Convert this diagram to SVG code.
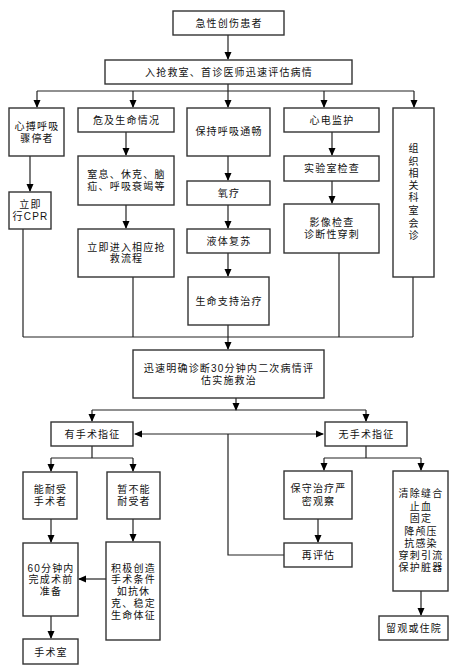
<svg xmlns="http://www.w3.org/2000/svg" width="455" height="667" viewBox="0 0 455 667">
<defs>
<marker id="ah" markerWidth="8" markerHeight="8" refX="7" refY="4" orient="auto" markerUnits="userSpaceOnUse">
<path d="M0,0.5 L8,4 L0,7.5 Z" fill="#000"/>
</marker>
<marker id="ahs" markerWidth="8" markerHeight="8" refX="1" refY="4" orient="auto" markerUnits="userSpaceOnUse">
<path d="M8,0.5 L0,4 L8,7.5 Z" fill="#000"/>
</marker>
<style>
rect{fill:#fff;stroke:#333;stroke-width:1.4}
text{font-family:"Liberation Sans","Noto Sans CJK SC",sans-serif;font-size:10px;letter-spacing:1.2px;fill:#111;text-anchor:middle;dominant-baseline:central}
.v{letter-spacing:0}
.c{fill:none;stroke:#222;stroke-width:1.2}
</style>
</defs>
<rect x="0" y="0" width="455" height="667" style="fill:#fff;stroke:none"/>
<g id="connectors">
<path class="c" d="M228,35 V59" marker-end="url(#ah)"/>
<path class="c" d="M37,91 H414 M228,84 V91"/>
<path class="c" d="M37,91 V107" marker-end="url(#ah)"/>
<path class="c" d="M133,91 V107" marker-end="url(#ah)"/>
<path class="c" d="M228,91 V107" marker-end="url(#ah)"/>
<path class="c" d="M324,91 V107" marker-end="url(#ah)"/>
<path class="c" d="M414,91 V107" marker-end="url(#ah)"/>
<path class="c" d="M30,156 V191" marker-end="url(#ah)"/>
<path class="c" d="M126,132 V155" marker-end="url(#ah)"/>
<path class="c" d="M126,205 V228" marker-end="url(#ah)"/>
<path class="c" d="M228,156 V180" marker-end="url(#ah)"/>
<path class="c" d="M228,205 V228" marker-end="url(#ah)"/>
<path class="c" d="M228,253 V276" marker-end="url(#ah)"/>
<path class="c" d="M332,132 V155" marker-end="url(#ah)"/>
<path class="c" d="M332,181 V203" marker-end="url(#ah)"/>
<path class="c" d="M23,229 V337 M133,277 V337 M339,253 V337 M413,277 V337 M23,337 H413"/>
<path class="c" d="M228,325 V349" marker-end="url(#ah)"/>
<path class="c" d="M236,398 V410" marker-end="url(#ah)"/>
<path class="c" d="M92,410 H366"/>
<path class="c" d="M92,410 V421" marker-end="url(#ah)"/>
<path class="c" d="M366,410 V421" marker-end="url(#ah)"/>
<path class="c" d="M135,434 H323" marker-start="url(#ahs)" marker-end="url(#ah)"/>
<path class="c" d="M284,555 H228 V434"/>
<path class="c" d="M92,446 V458 M51,458 H133"/>
<path class="c" d="M51,458 V471" marker-end="url(#ah)"/>
<path class="c" d="M133,458 V471" marker-end="url(#ah)"/>
<path class="c" d="M51,519 V542" marker-end="url(#ah)"/>
<path class="c" d="M133,519 V541" marker-end="url(#ah)"/>
<path class="c" d="M106,579 H79" marker-end="url(#ah)"/>
<path class="c" d="M51,616 V638" marker-end="url(#ah)"/>
<path class="c" d="M366,446 V458 M324,458 H421"/>
<path class="c" d="M324,458 V470" marker-end="url(#ah)"/>
<path class="c" d="M421,458 V470" marker-end="url(#ah)"/>
<path class="c" d="M318,519 V542" marker-end="url(#ah)"/>
<path class="c" d="M421,591 V615" marker-end="url(#ah)"/>
</g>
<g id="n1"><rect x="173" y="11" width="111" height="24"/><text x="229" y="23">急性创伤患者</text></g>
<g id="n2"><rect x="105" y="60" width="247" height="24"/><text x="229" y="72">入抢救室、首诊医师迅速评估病情</text></g>
<g id="n3"><rect x="9" y="108" width="55" height="48"/><text><tspan x="37" y="126">心搏呼吸</tspan><tspan x="37" y="138">骤停者</tspan></text></g>
<g id="n4"><rect x="9" y="192" width="42" height="37"/><text><tspan x="30.5" y="204">立即</tspan><tspan x="30.5" y="216">行CPR</tspan></text></g>
<g id="n5"><rect x="78" y="108" width="96" height="24"/><text x="126.5" y="120">危及生命情况</text></g>
<g id="n6"><rect x="78" y="156" width="96" height="49"/><text><tspan x="126.5" y="174">窒息、休克、脑</tspan><tspan x="126.5" y="186">疝、呼吸衰竭等</tspan></text></g>
<g id="n7"><rect x="78" y="229" width="96" height="48"/><text><tspan x="126.5" y="247">立即进入相应抢</tspan><tspan x="126.5" y="258">救流程</tspan></text></g>
<g id="n8"><rect x="187" y="108" width="83" height="48"/><text x="229" y="131">保持呼吸通畅</text></g>
<g id="n9"><rect x="187" y="181" width="83" height="24"/><text x="229" y="193">氧疗</text></g>
<g id="n10"><rect x="187" y="229" width="83" height="24"/><text x="229" y="241">液体复苏</text></g>
<g id="n11"><rect x="188" y="277" width="81" height="48"/><text x="229" y="301">生命支持治疗</text></g>
<g id="n12"><rect x="284" y="108" width="95" height="24"/><text x="332" y="120">心电监护</text></g>
<g id="n13"><rect x="284" y="156" width="95" height="25"/><text x="332" y="168.5">实验室检查</text></g>
<g id="n14"><rect x="284" y="204" width="95" height="49"/><text><tspan x="332" y="222">影像检查</tspan><tspan x="332" y="234">诊断性穿刺</tspan></text></g>
<g id="n15"><rect x="393" y="108" width="41" height="169"/>
<text class="v"><tspan x="413.5" y="148">组</tspan><tspan x="413.5" y="161">织</tspan><tspan x="413.5" y="173">相</tspan><tspan x="413.5" y="185">关</tspan><tspan x="413.5" y="197">科</tspan><tspan x="413.5" y="210">室</tspan><tspan x="413.5" y="223">会</tspan><tspan x="413.5" y="235">诊</tspan></text></g>
<g id="n16"><rect x="133" y="350" width="191" height="48"/><text><tspan x="229" y="368">迅速明确诊断30分钟内二次病情评</tspan><tspan x="229" y="380">估实施救治</tspan></text></g>
<g id="n17"><rect x="51" y="422" width="82" height="24"/><text x="92.5" y="434">有手术指征</text></g>
<g id="n18"><rect x="325" y="422" width="82" height="24"/><text x="366.5" y="434">无手术指征</text></g>
<g id="n19"><rect x="23" y="472" width="54" height="47"/><text><tspan x="50.5" y="489">能耐受</tspan><tspan x="50.5" y="501">手术者</tspan></text></g>
<g id="n20"><rect x="107" y="472" width="53" height="47"/><text><tspan x="134" y="489">暂不能</tspan><tspan x="134" y="501">耐受者</tspan></text></g>
<g id="n21"><rect x="23" y="543" width="55" height="73"/><text><tspan x="51" y="568">60分钟内</tspan><tspan x="51" y="579">完成术前</tspan><tspan x="51" y="591">准备</tspan></text></g>
<g id="n22"><rect x="106" y="542" width="54" height="98"/><text><tspan x="133.5" y="568">积极创造</tspan><tspan x="133.5" y="579">手术条件</tspan><tspan x="133.5" y="591">如抗休</tspan><tspan x="133.5" y="603">克、稳定</tspan><tspan x="133.5" y="615">生命体征</tspan></text></g>
<g id="n23"><rect x="23" y="639" width="55" height="25"/><text x="51" y="652">手术室</text></g>
<g id="n24"><rect x="284" y="471" width="68" height="48"/><text><tspan x="318.5" y="488">保守治疗严</tspan><tspan x="318.5" y="501">密观察</tspan></text></g>
<g id="n25"><rect x="284" y="543" width="68" height="24"/><text x="318.5" y="555">再评估</text></g>
<g id="n26"><rect x="393" y="471" width="55" height="120"/><text><tspan x="421" y="493">清除缝合</tspan><tspan x="421" y="506">止血</tspan><tspan x="421" y="518">固定</tspan><tspan x="421" y="531">降颅压</tspan><tspan x="421" y="543">抗感染</tspan><tspan x="421" y="555">穿刺引流</tspan><tspan x="421" y="567">保护脏器</tspan></text></g>
<g id="n27"><rect x="379" y="616" width="69" height="24"/><text x="414" y="628">留观或住院</text></g>
</svg>
